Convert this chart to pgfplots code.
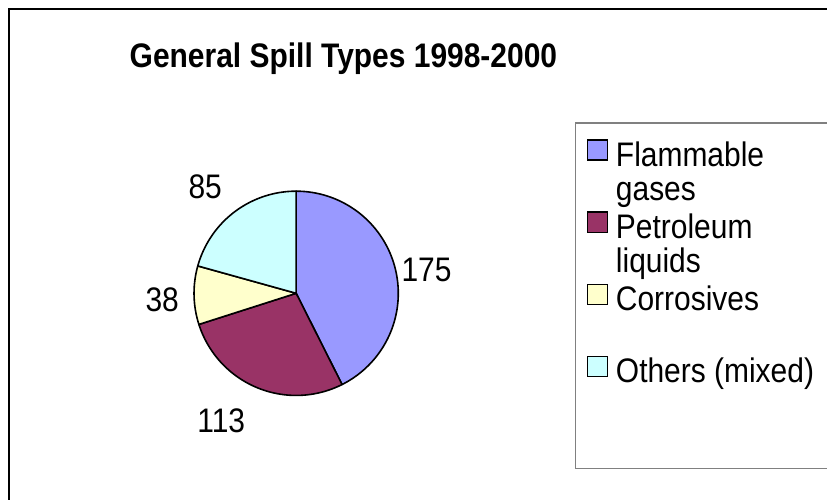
\documentclass[border=0pt]{standalone}
\usepackage{pgfplots}
\usepackage{pgfplotstable}
\pgfplotsset{compat=1.18}
\usepackage{fontspec}
\setmainfont{Liberation Sans}[FakeStretch=0.88]
\definecolor{flam}{RGB}{153,153,255}
\definecolor{petro}{RGB}{153,51,102}
\definecolor{corr}{RGB}{255,255,204}
\definecolor{other}{RGB}{204,255,255}
\definecolor{legframe}{RGB}{128,128,128}

\pgfplotstableread{
name value
Flammable 175
Petroleum 113
Corrosives 38
Others 85
}\pietable

\pgfplotstablegetelem{0}{value}\of\pietable \edef\vA{\pgfplotsretval}
\pgfplotstablegetelem{1}{value}\of\pietable \edef\vB{\pgfplotsretval}
\pgfplotstablegetelem{2}{value}\of\pietable \edef\vC{\pgfplotsretval}
\pgfplotstablegetelem{3}{value}\of\pietable \edef\vD{\pgfplotsretval}
\pgfmathsetmacro\total{\vA+\vB+\vC+\vD}

% start (cumulative), value, colour
\newcommand\pieslice[3]{%
  \pgfmathsetmacro\aStart{90-360*((#1)/\total)}%
  \pgfmathsetmacro\aEnd{90-360*((#1+#2)/\total)}%
  \addplot[draw=black, line width=1.6bp, line join=round, fill=#3,
           domain=\aEnd:\aStart, samples=120, variable=\t]
     ({cos(\t)},{sin(\t)}) -- (axis cs:0,0) -- cycle;
}
\newcommand\bigfont{\fontsize{34bp}{40bp}\selectfont}

\begin{document}
\begin{tikzpicture}[x=1bp,y=1bp]
\useasboundingbox (0,0) rectangle (826,499);
\fill[white] (-10,-10) rectangle (840,510);
% outer chart frame (right and bottom edges fall outside the picture)
\draw[black, line width=2bp] (850,490) -- (9,490) -- (9,-10);

% title
\node[font=\bigfont\bfseries, anchor=base] at (343,432) {General Spill Types 1998-2000};

\begin{axis}[at={(290,202)}, anchor=center, hide axis,
  width=204bp, height=204bp, scale only axis,
  xmin=-1, xmax=1, ymin=-1, ymax=1, clip=false]
  \pieslice{0}{\vA}{flam}
  \pgfmathsetmacro\cB{\vA}
  \pieslice{\cB}{\vB}{petro}
  \pgfmathsetmacro\cC{\vA+\vB}
  \pieslice{\cC}{\vC}{corr}
  \pgfmathsetmacro\cD{\vA+\vB+\vC}
  \pieslice{\cD}{\vD}{other}
\end{axis}

% data labels
\begin{scope}[every node/.style={font=\bigfont, anchor=center}]
\node at (426,229) {175};
\node at (221,79) {113};
\node at (162,200) {38};
\node at (205,312) {85};
\end{scope}

% legend (its right edge falls outside the picture)
\draw[legframe, line width=1.5bp] (850,376) -- (575,376) -- (575,31) -- (850,31);
\begin{scope}[line width=1.5bp]
\filldraw[fill=flam, draw=black] (587,339) rectangle (607,359);
\filldraw[fill=petro, draw=black] (587,267) rectangle (607,287);
\filldraw[fill=corr, draw=black] (587,195) rectangle (607,215);
\filldraw[fill=other, draw=black] (587,123) rectangle (607,143);
\end{scope}
\begin{scope}[every node/.style={font=\bigfont, anchor=base west, inner sep=0pt}]
\node at (615,333) {Flammable};
\node at (615,299) {gases};
\node at (615,261) {Petroleum};
\node at (615,227) {liquids};
\node at (615,189) {Corrosives};
\node at (615,117) {Others (mixed)};
\end{scope}
\end{tikzpicture}
\end{document}
